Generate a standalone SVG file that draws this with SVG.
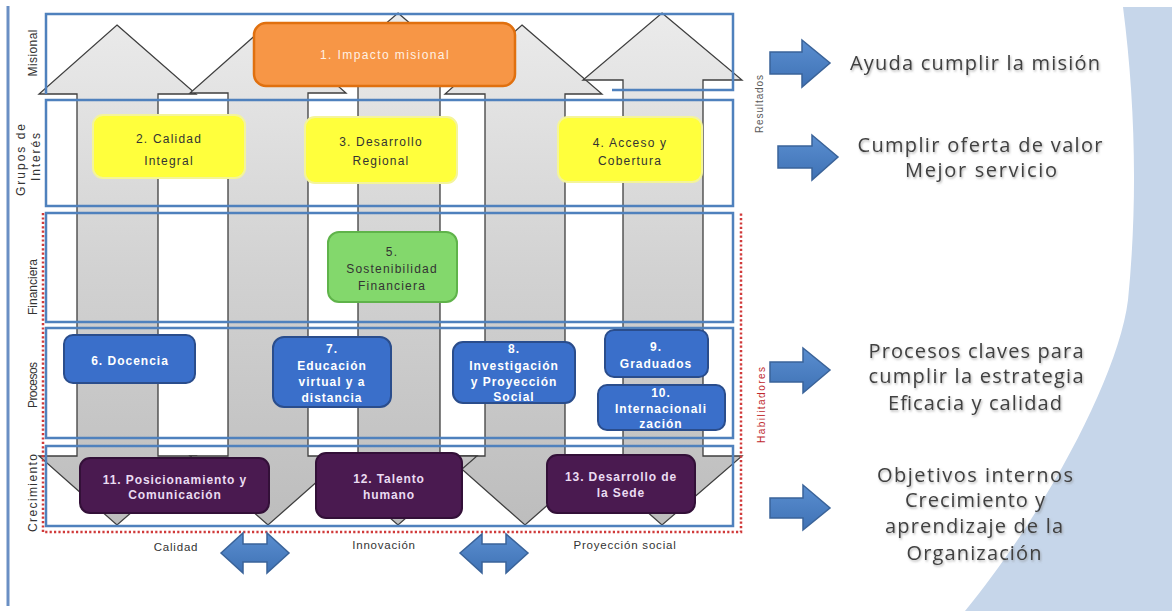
<svg xmlns="http://www.w3.org/2000/svg" width="1172" height="611" viewBox="0 0 1172 611">
<defs>
<linearGradient id="gArrow" gradientUnits="userSpaceOnUse" x1="0" y1="13" x2="0" y2="525">
<stop offset="0" stop-color="#ebebeb"/>
<stop offset="0.5" stop-color="#d2d2d2"/>
<stop offset="1" stop-color="#bdbdbd"/>
</linearGradient>
<linearGradient id="gBlue" x1="0" y1="0" x2="0" y2="1">
<stop offset="0" stop-color="#5a8ed0"/>
<stop offset="1" stop-color="#3f72b5"/>
</linearGradient>
<filter id="shadow" x="-10%" y="-30%" width="120%" height="160%">
<feDropShadow dx="1" dy="1.5" stdDeviation="1.2" flood-color="#7f7f7f" flood-opacity="0.6"/>
</filter>
<style>
.arrow{fill:url(#gArrow);stroke:#3f3f3f;stroke-width:1.3;stroke-linejoin:miter}
.band{fill:none;stroke:#4f81bd;stroke-width:2.5}
.hab{fill:none;stroke:#d03a3a;stroke-width:2.5;stroke-dasharray:2.2 2.2}
.lbl{font-family:"Liberation Sans",Arial,sans-serif;font-size:12px;fill:#333;text-anchor:middle;dominant-baseline:central}
.side{font-family:"Liberation Sans",Arial,sans-serif;font-size:10px;text-anchor:middle;dominant-baseline:central}
.bot{font-family:"Liberation Sans",Arial,sans-serif;font-size:11.5px;fill:#333;text-anchor:middle;letter-spacing:0.8px}
.nt{font-family:"Liberation Sans",Arial,sans-serif;font-size:12px;text-anchor:middle}
.dark{fill:#333;letter-spacing:1.2px}
.wht{fill:#ffffff;font-weight:bold;letter-spacing:1px}
.pur{fill:#eadcf2;font-weight:bold;letter-spacing:0.9px}
.org{fill:#fff1e4;letter-spacing:1.4px}
.big{font-family:"Open Sans","Liberation Sans",Arial,sans-serif;font-size:20px;fill:#404040;text-anchor:middle;filter:url(#shadow)}
.barrow{fill:url(#gBlue);stroke:#3a6399;stroke-width:1.5;stroke-linejoin:miter}
.yel{fill:#ffff3c;stroke:#f4f49a;stroke-width:2}
.grn{fill:#83d86c;stroke:#5fb34a;stroke-width:2}
.blu{fill:#3a6fca;stroke:#2a4d8c;stroke-width:2}
.prp{fill:#4a1a50;stroke:#331038;stroke-width:2}
.orn{fill:#f79646;stroke:#e0700f;stroke-width:2.5}
</style>
</defs>

<rect x="0" y="0" width="1172" height="611" fill="#ffffff"/>
<path d="M1123,7 C1135,100 1138,200 1128,300 C1118,380 1040,520 965,611 L1172,611 L1172,7 Z" fill="#c6d6ea"/>
<line x1="8" y1="6" x2="8" y2="606" stroke="#6a8fc4" stroke-width="3"/>

<g id="arrows">
<polygon class="arrow" points="117,25 196,94 158,94 158,456 196,456 117,525 39,456 77,456 77,94 39,94"/>
<polygon class="arrow" points="268,24 346,93 308,93 308,456 346,456 268,525 190,456 228,456 228,93 190,93"/>
<polygon class="arrow" points="522,25 602,94 565,94 565,456 603,456 525,525 447,456 485,456 485,94 445,94"/>
<polygon class="arrow" points="398,13 476,80 440,80 440,456 477,456 398,525 320,456 358,456 358,80 320,80"/>
<polygon class="arrow" points="662,13 742,80 703,80 703,456 742,456 662,525 584,456 623,456 623,80 583,80"/>
</g>

<g id="bands">
<path class="band" d="M46,94 V14 H733 V90 H612"/>
<rect class="band" x="46" y="100" width="687" height="106"/>
<rect class="band" x="46" y="213" width="687" height="109"/>
<rect class="band" x="46" y="328" width="687" height="110"/>
<rect class="band" x="46" y="446" width="687" height="80"/>
<path class="hab" d="M43,213 V532 H741 V213"/>
</g>

<g id="band-labels">
<text class="lbl" x="33" y="53" transform="rotate(-90 33 53)" textLength="47" lengthAdjust="spacing">Misional</text>
<text class="lbl" x="21" y="160" transform="rotate(-90 21 160)" textLength="72" lengthAdjust="spacing">Grupos de</text>
<text class="lbl" x="36" y="157" transform="rotate(-90 36 157)" textLength="48" lengthAdjust="spacing">Interés</text>
<text class="lbl" x="33" y="287" transform="rotate(-90 33 287)" textLength="56" lengthAdjust="spacing">Financiera</text>
<text class="lbl" x="33" y="385" transform="rotate(-90 33 385)" textLength="46" lengthAdjust="spacing">Procesos</text>
<text class="lbl" x="33" y="493" transform="rotate(-90 33 493)" textLength="78" lengthAdjust="spacing">Crecimiento</text>
<text class="side" x="759" y="104" fill="#595959" transform="rotate(-90 759 104)" textLength="58" lengthAdjust="spacing">Resultados</text>
<text class="side" x="761" y="405" fill="#c0282d" transform="rotate(-90 761 405)" textLength="76" lengthAdjust="spacing">Habilitadores</text>
</g>

<g id="n1">
<rect class="orn" x="254" y="23" width="261" height="63" rx="12"/>
<text class="nt org" x="385" y="59">1. Impacto misional</text>
</g>
<g id="n2">
<rect class="yel" x="93" y="115" width="152" height="63" rx="10"/>
<text class="nt dark" x="169" y="143">2. Calidad</text>
<text class="nt dark" x="169" y="165">Integral</text>
</g>
<g id="n3">
<rect class="yel" x="305" y="117" width="152" height="66" rx="10"/>
<text class="nt dark" x="381" y="146">3. Desarrollo</text>
<text class="nt dark" x="381" y="165">Regional</text>
</g>
<g id="n4">
<rect class="yel" x="558" y="117" width="144" height="65" rx="10"/>
<text class="nt dark" x="630" y="147">4. Acceso y</text>
<text class="nt dark" x="630" y="165">Cobertura</text>
</g>
<g id="n5">
<rect class="grn" x="328" y="232" width="129" height="70" rx="11"/>
<text class="nt dark" x="392" y="256">5.</text>
<text class="nt dark" x="392" y="273">Sostenibilidad</text>
<text class="nt dark" x="392" y="290">Financiera</text>
</g>
<g id="n6">
<rect class="blu" x="64" y="335" width="131" height="48" rx="9"/>
<text class="nt wht" x="130" y="365">6. Docencia</text>
</g>
<g id="n7">
<rect class="blu" x="273" y="337" width="118" height="70" rx="11"/>
<text class="nt wht" x="332" y="353">7.</text>
<text class="nt wht" x="332" y="370">Educación</text>
<text class="nt wht" x="332" y="386">virtual y a</text>
<text class="nt wht" x="332" y="402">distancia</text>
</g>
<g id="n8">
<rect class="blu" x="453" y="342" width="122" height="61" rx="10"/>
<text class="nt wht" x="514" y="353">8.</text>
<text class="nt wht" x="514" y="370">Investigación</text>
<text class="nt wht" x="514" y="386">y Proyección</text>
<text class="nt wht" x="514" y="401">Social</text>
</g>
<g id="n9">
<rect class="blu" x="605" y="330" width="103" height="47" rx="9"/>
<text class="nt wht" x="656" y="351">9.</text>
<text class="nt wht" x="656" y="368">Graduados</text>
</g>
<g id="n10">
<rect class="blu" x="598" y="385" width="127" height="45" rx="9"/>
<text class="nt wht" x="661" y="397">10.</text>
<text class="nt wht" x="661" y="413">Internacionali</text>
<text class="nt wht" x="661" y="428">zación</text>
</g>
<g id="n11">
<rect class="prp" x="80" y="458" width="189" height="55" rx="10"/>
<text class="nt pur" x="175" y="484">11. Posicionamiento y</text>
<text class="nt pur" x="175" y="499">Comunicación</text>
</g>
<g id="n12">
<rect class="prp" x="316" y="453" width="146" height="65" rx="10"/>
<text class="nt pur" x="389" y="483">12. Talento</text>
<text class="nt pur" x="389" y="499">humano</text>
</g>
<g id="n13">
<rect class="prp" x="547" y="455" width="148" height="58" rx="10"/>
<text class="nt pur" x="621" y="481">13. Desarrollo de</text>
<text class="nt pur" x="621" y="497">la Sede</text>
</g>

<g id="themes">
<text class="bot" x="176" y="551">Calidad</text>
<text class="bot" x="384" y="549">Innovación</text>
<text class="bot" x="625" y="549">Proyección social</text>
</g>

<g id="connectors">
<polygon class="barrow" points="221,553 243,533 243,544 267,544 267,533 289,553 267,573 267,562 243,562 243,573"/>
<polygon class="barrow" points="460,553 482,534 482,544 506,544 506,534 528,553 506,573 506,562 482,562 482,573"/>
<polygon class="barrow" points="770,52 802,52 802,40 830,63 802,87 802,74 770,74"/>
<polygon class="barrow" points="778,146 812,146 812,135 838,157 812,180 812,168 778,168"/>
<polygon class="barrow" points="770,362 803,362 803,348 830,370 803,393 803,382 770,382"/>
<polygon class="barrow" points="770,498 803,498 803,485 830,508 803,530 803,518 770,518"/>
</g>

<g id="notes">
<text class="big" x="975" y="70" textLength="250" lengthAdjust="spacing">Ayuda cumplir la misión</text>
<text class="big" x="980" y="152" textLength="245" lengthAdjust="spacing">Cumplir oferta de valor</text>
<text class="big" x="981" y="177" textLength="152" lengthAdjust="spacing">Mejor servicio</text>
<text class="big" x="976" y="358" textLength="215" lengthAdjust="spacing">Procesos claves para</text>
<text class="big" x="976" y="383" textLength="215" lengthAdjust="spacing">cumplir la estrategia</text>
<text class="big" x="975" y="410" textLength="174" lengthAdjust="spacing">Eficacia y calidad</text>
<text class="big" x="975" y="482" textLength="196" lengthAdjust="spacing">Objetivos internos</text>
<text class="big" x="975" y="507" textLength="140" lengthAdjust="spacing">Crecimiento y</text>
<text class="big" x="974" y="533" textLength="178" lengthAdjust="spacing">aprendizaje de la</text>
<text class="big" x="974" y="560" textLength="135" lengthAdjust="spacing">Organización</text>
</g>
</svg>
